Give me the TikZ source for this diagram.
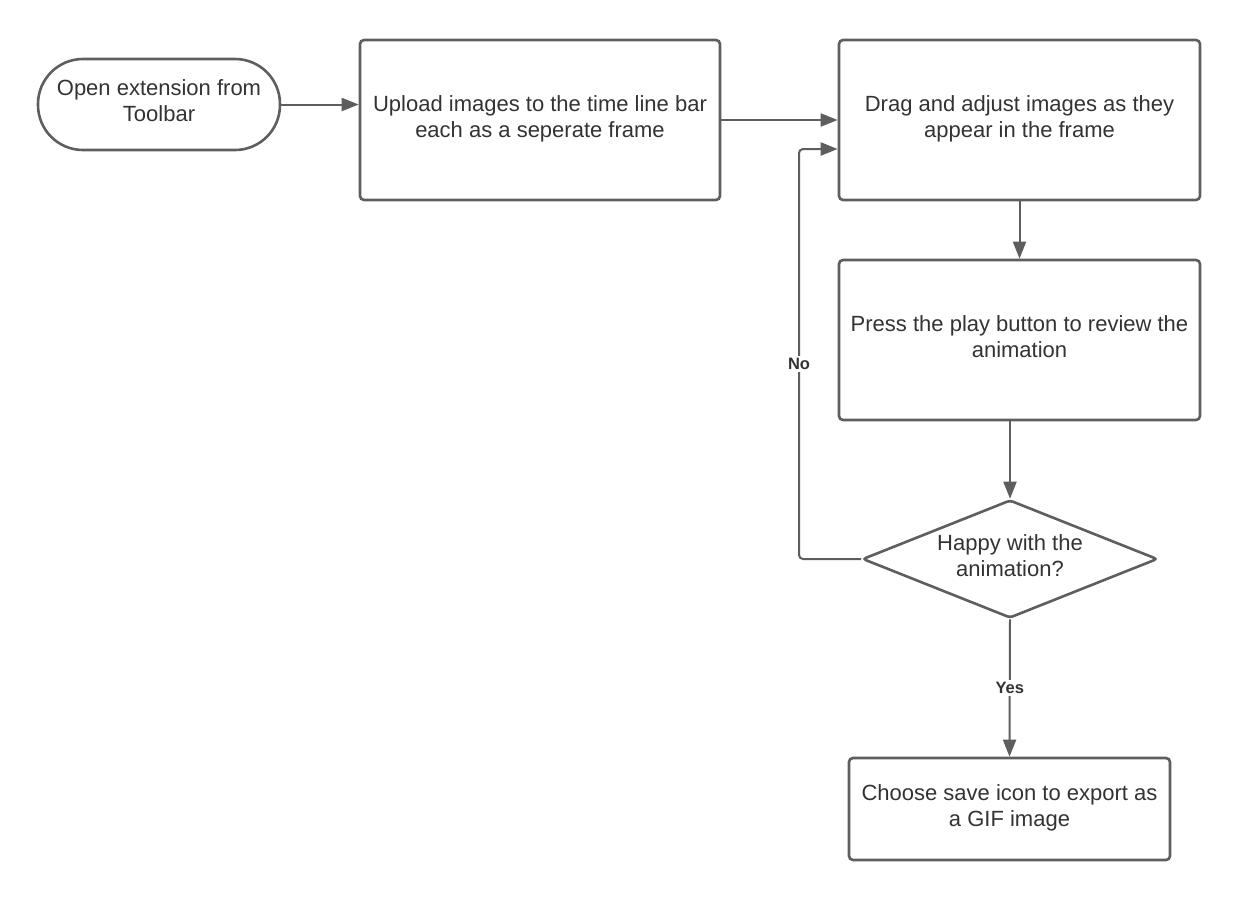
\documentclass[tikz,border=0pt]{standalone}
\usepackage{fontspec}
\setmainfont{Liberation Sans}
\usetikzlibrary{arrows.meta,shapes.geometric}
\definecolor{linec}{HTML}{5E5E5E}
\definecolor{textc}{HTML}{333333}
\newcommand\boxtext[1]{\begin{tabular}[t]{@{}c@{}}#1\end{tabular}\rule[-35.8pt]{0pt}{1pt}}
\begin{document}
\begin{tikzpicture}[x=1pt,y=-1pt,
  box/.style={draw=linec, line width=2.6pt, rounded corners=4pt, fill=white, text=textc,
    font=\fontsize{22}{26}\selectfont, inner sep=0pt},
  conn/.style={draw=linec, line width=2pt, -{Triangle[length=17pt,width=13pt]}},
  lbl/.style={fill=white, text=textc, font=\fontsize{16.5}{19}\selectfont\bfseries, inner sep=2pt}]
\useasboundingbox (0,0) rectangle (1240,900);
\fill[white] (0,0) rectangle (1240,900);

\node[box, minimum width=242pt, minimum height=91pt, rounded corners=45pt] (start) at (159,104.5)
  {\boxtext{Open extension from\\Toolbar}};
\node[box, minimum width=360pt, minimum height=160pt] (upload) at (540,120)
  {\boxtext{Upload images to the time line bar\\each as a seperate frame}};
\node[box, minimum width=361pt, minimum height=160pt] (drag) at (1019.5,120)
  {\boxtext{Drag and adjust images as they\\appear in the frame}};
\node[box, minimum width=361pt, minimum height=160pt] (press) at (1019.5,340)
  {\boxtext{Press the play button to review the\\animation}};
\node[box, diamond, rounded corners=3pt, aspect=2.5, minimum width=295pt, minimum height=118pt] (happy) at (1010,559)
  {\boxtext{Happy with the\\animation?}};
\node[box, minimum width=321pt, minimum height=102pt] (save) at (1009.5,809)
  {\boxtext{Choose save icon to export as\\a GIF image}};

\coordinate (nobend) at (799,559);

\draw[conn] (start.east) -- (upload.west |- start.east);
\draw[conn] (upload.east) -- (drag.west);
\draw[conn] (drag.south) -- (press.north);
\draw[conn] (press.south -| happy.north) -- (happy.north);
\draw[conn, rounded corners=4pt] (happy.west) -- (nobend) |- ([yshift=-29pt]drag.west);
\node[lbl] (nolbl) at (799,364) {No};
\draw[conn] (happy.south) -- node[lbl] (yeslbl) {Yes} (save.north);
\end{tikzpicture}
\end{document}
